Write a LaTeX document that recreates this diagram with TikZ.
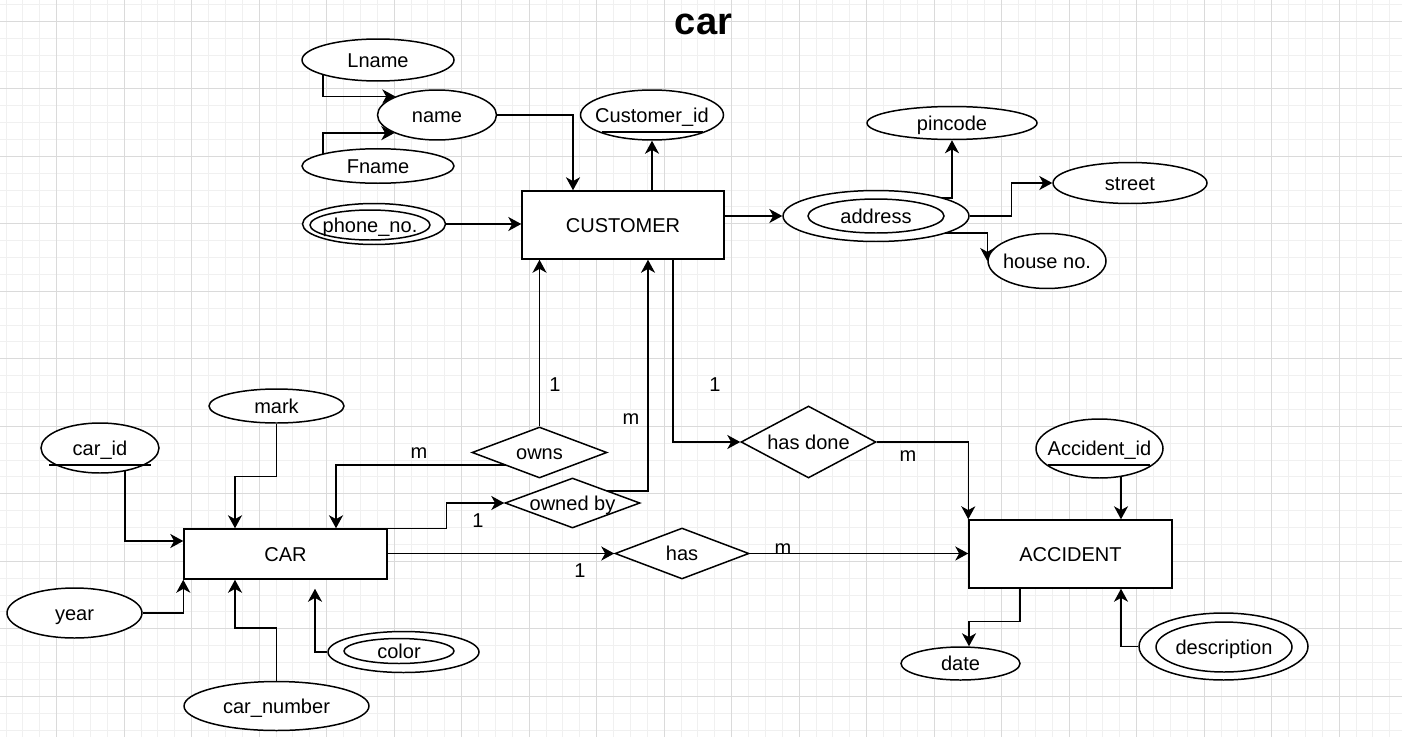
\documentclass[tikz,border=0pt]{standalone}
\usepackage{fontspec}
\setmainfont{Liberation Sans}
\usetikzlibrary{shapes.geometric,arrows.meta,calc,backgrounds}
\definecolor{gridmajor}{HTML}{DADADA}
\definecolor{gridminor}{HTML}{F0F0F0}
\newcommand{\erfont}{\fontsize{11.4}{13.7}\selectfont}
\tikzset{
  entity/.style={draw, fill=white, line width=0.85pt, inner sep=0pt, font=\erfont, text height=8.2pt, text depth=0pt},
  attr/.style={ellipse, draw, fill=white, line width=0.85pt, inner sep=0pt},
  rel/.style={diamond, draw, fill=white, line width=0.85pt, inner sep=0pt},
  conn/.style={line width=0.85pt, -{Stealth[length=7.4pt, width=8pt, inset=2.2pt]}},
  card/.style={inner sep=0pt, font=\erfont, text height=8.2pt, text depth=0pt},
  every label/.style={inner sep=0pt, font=\erfont, text height=8.2pt, text depth=0pt},
}
\begin{document}
\begin{tikzpicture}[x=0.02cm, y=-0.02cm]
    \useasboundingbox (0,0) rectangle (1402,737);

    % grid
    \begin{scope}[on background layer]
        \fill[white] (0,0) rectangle (1402,737);
        \clip (0,0) rectangle (1402,737);
        \foreach \i in {0,...,84}
            \draw[gridminor, line width=0.57pt] ({-10.8+16.875*\i},0) -- ({-10.8+16.875*\i},737);
        \foreach \j in {0,...,47}
            \draw[gridminor, line width=0.57pt] (0,{-46.2+16.875*\j}) -- (1402,{-46.2+16.875*\j});
        \foreach \i in {0,...,21}
            \draw[gridmajor, line width=0.57pt] ({-10.8+67.5*\i},0) -- ({-10.8+67.5*\i},737);
        \foreach \j in {0,...,12}
            \draw[gridmajor, line width=0.57pt] (0,{-46.2+67.5*\j}) -- (1402,{-46.2+67.5*\j});
    \end{scope}

    % title
    \node[inner sep=0pt, font=\fontsize{21.7}{26}\selectfont\bfseries, text height=15.5pt, text depth=0pt] (title) at (703.5,21.3) {car};

    % entities
    \node[entity, minimum width=4.04cm, minimum height=1.36cm] (customer) at (623,225) {CUSTOMER};
    \node[entity, minimum width=4.06cm, minimum height=1.00cm] (car) at (285.5,554) {CAR};
    \node[entity, minimum width=4.06cm, minimum height=1.36cm] (accident) at (1070.5,554) {ACCIDENT};

    % attributes of CUSTOMER
    \node[attr, minimum width=3.04cm, minimum height=0.84cm, label=center:Lname] (lname) at (378,60) {};
    \node[attr, minimum width=2.38cm, minimum height=1.00cm, label=center:name] (name) at (437,115) {};
    \node[attr, minimum width=3.04cm, minimum height=0.69cm, label=center:Fname] (fname) at (378,166) {};
    \node[attr, minimum width=2.86cm, minimum height=1.00cm, label=center:Customer\_id] (custid) at (652,115) {};
    \node[attr, minimum width=2.86cm, minimum height=0.82cm] (phone) at (374,224) {};
    \node[attr, minimum width=2.40cm, minimum height=0.60cm, label=center:phone\_no.] (phonein) at (370,225) {};
    \node[attr, minimum width=3.72cm, minimum height=1.02cm] (addr) at (876,216) {};
    \node[attr, minimum width=2.72cm, minimum height=0.68cm, label=center:address] (addrin) at (876,216) {};
    \node[attr, minimum width=3.40cm, minimum height=0.66cm, label=center:pincode] (pincode) at (952,123) {};
    \node[attr, minimum width=3.08cm, minimum height=0.82cm, label=center:street] (street) at (1130,183) {};
    \node[attr, minimum width=2.36cm, minimum height=1.10cm, label=center:house no.] (house) at (1047,261) {};

    % attributes of CAR
    \node[attr, minimum width=2.36cm, minimum height=1.00cm, label=center:car\_id] (carid) at (100,448) {};
    \node[attr, minimum width=2.70cm, minimum height=0.68cm, label=center:mark] (mark) at (276.5,406) {};
    \node[attr, minimum width=2.70cm, minimum height=1.00cm, label=center:year] (year) at (74.5,613) {};
    \node[attr, minimum width=3.70cm, minimum height=0.98cm, label=center:car\_number] (carnum) at (276.5,706) {};
    \node[attr, minimum width=3.02cm, minimum height=0.82cm] (color) at (403.5,652) {};
    \node[attr, minimum width=2.20cm, minimum height=0.50cm, label=center:color] (colorin) at (399,651) {};

    % attributes of ACCIDENT
    \node[attr, minimum width=2.54cm, minimum height=1.18cm, label=center:Accident\_id] (accid) at (1099.5,448.5) {};
    \node[attr, minimum width=2.38cm, minimum height=0.66cm, label=center:date] (date) at (960.5,663.5) {};
    \node[attr, minimum width=3.38cm, minimum height=1.34cm] (desc) at (1223.5,646.5) {};
    \node[attr, minimum width=2.72cm, minimum height=1.00cm, label=center:description] (descin) at (1224,647) {};

    % keys
    \draw[line width=0.85pt] ($(custid.center)+(-50,17)$) -- ++(101,0);
    \draw[line width=0.85pt] ($(carid.center)+(-51,17)$) -- ++(102,0);
    \draw[line width=0.85pt] ($(accid.center)+(-51.5,16.5)$) -- ++(102,0);

    % relationships
    \node[rel, minimum width=2.70cm, minimum height=1.02cm, label=center:owns] (owns) at (539.5,452.5) {};
    \node[rel, minimum width=2.70cm, minimum height=1.00cm, label=center:owned by] (ownedby) at (572.5,503) {};
    \node[rel, minimum width=2.68cm, minimum height=1.02cm, label=center:has] (has) at (682,553.5) {};
    \node[rel, minimum width=2.70cm, minimum height=1.44cm, label=center:has done] (hasdone) at (808.5,442) {};

    \coordinate (colortip) at ($(car.south)+(29.5,9)$);

    % edges
    \begin{scope}[on background layer]
        \draw[conn] ($(lname.center)+(-55,0)$) |- (name.156.5);
        \draw[conn] ($(fname.center)+(-55,0)$) |- (name.203.5);
        \draw[conn] (name.east) -| ($(customer.north)+(-50,0)$);
        \draw[conn] (customer.north -| custid.south) -- (custid.south);
        \draw[conn] (phone.east) -- (phone.east -| customer.west);
        \draw[conn] (customer.east |- addr.west) -- (addr.west);
        \draw[conn] ($(addr.center)+(60,-18)$) -| (pincode.south);
        \draw[conn] (addr.east) -- ++(42,0) |- (street.west);
        \draw[conn] ($(addr.center)+(60,17)$) -| (house.west);

        \draw[conn] ($(carid.center)+(25,0)$) |- ($(car.west)+(0,-13)$);
        \draw[conn] (mark.south) -- ++(0,53) -| ($(car.north)+(-50.5,0)$);
        \draw[conn] (year.east) -| (car.south west);
        \draw[conn] (carnum.north) -- ++(0,-53) -| ($(car.south)+(-50.5,0)$);
        \draw[conn] (color.west) -| (colortip);

        \draw[conn] (owns.north) -- (owns.north |- customer.south);
        \draw[conn] ($(owns.center)+(-20,12.5)$) -| ($(car.north)+(50.5,0)$);
        \draw[conn] ($(ownedby.center)+(20,-12)$) -| ($(customer.south)+(25,0)$);
        \draw[conn] (car.north east) -- ++(59,0) |- (ownedby.west);
        \draw[conn] (car.east |- has.west) -- (has.west);
        \draw[conn] (has.east) -- (has.east -| accident.west);
        \draw[conn] ($(customer.south)+(50,0)$) |- (hasdone.west);
        \draw[conn] (hasdone.east) -| (accident.north west);

        \draw[conn] ($(accid.center)+(21.5,0)$) -- ($(accident.north)+(50.5,0)$);
        \draw[conn] ($(accident.south)+(-50.5,0)$) -- ++(0,33) -| ($(date.north)+(8.5,0)$);
        \draw[conn] (desc.west) -| ($(accident.south)+(50.5,0)$);
    \end{scope}

    % cardinalities
    \node[card] (c1) at (555,384) {1};
    \node[card] (c2) at (631,417) {m};
    \node[card] (c3) at (715,384) {1};
    \node[card] (c4) at (419,451) {m};
    \node[card] (c5) at (478,520) {1};
    \node[card] (c6) at (580,570) {1};
    \node[card] (c7) at (783,547) {m};
    \node[card] (c8) at (908,454) {m};
\end{tikzpicture}
\end{document}
